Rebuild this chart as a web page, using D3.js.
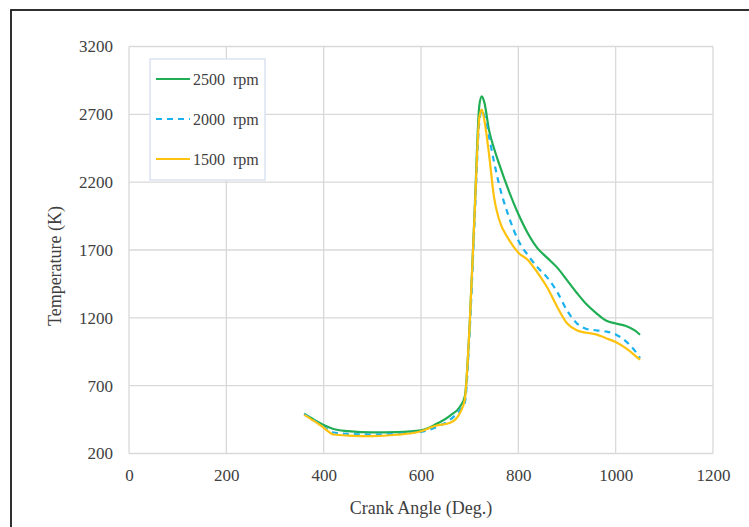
<!DOCTYPE html>
<html lang="en">
<head>
    <meta charset="UTF-8">
    <title>Temperature vs Crank Angle</title>
    <script src="https://d3js.org/d3.v7.min.js"></script>
    <style>
        body { margin: 0; background: #fff; overflow: hidden; }
        text { font-family: "Liberation Serif", "Times New Roman", serif; fill: #404040; }
        .grid line { stroke: #d9d9d9; stroke-width: 1.3; }
    </style>
</head>
<body>
    <div id="container"></div>
    <script>
        // crank angle (deg) shared by all series
        const angles = [360, 380, 400, 420, 450, 500, 550, 600, 630, 660, 680, 690, 700, 710, 720, 725, 730, 740, 750, 760,
                        780, 800, 820, 840, 860, 880, 900, 920, 940, 960, 980, 1000, 1020, 1040, 1050];

        const temp2500 = [494, 450, 410, 381, 365, 355, 358, 371, 415, 480, 545, 620, 1150, 1970, 2770, 2832, 2790, 2580, 2450, 2340,
                          2140, 1965, 1820, 1710, 1640, 1570, 1478, 1385, 1300, 1235, 1180, 1158, 1142, 1105, 1075];
        const temp2000 = [490, 445, 395, 355, 345, 340, 345, 360, 392, 450, 520, 575, 1100, 1900, 2650, 2730, 2690, 2530, 2350, 2190,
                          1950, 1770, 1660, 1570, 1495, 1390, 1255, 1160, 1118, 1108, 1099, 1078, 1030, 955, 904];
        const temp1500 = [485, 440, 390, 340, 332, 328, 338, 364, 405, 426, 499, 597, 1150, 1950, 2680, 2734, 2660, 2400, 2090, 1930,
                          1780, 1680, 1625, 1530, 1420, 1280, 1160, 1108, 1090, 1078, 1050, 1022, 978, 922, 891];

        const seriesNames = ["2500  rpm", "2000  rpm", "1500  rpm"];
        const seriesColors = ["#1fae54", "#1ab2ee", "#ffc20e"];
        const seriesDash = [null, "6,5", null];
        const allSeries = [temp2500, temp2000, temp1500];

        const xTicks = [0, 200, 400, 600, 800, 1000, 1200];
        const yTicks = [200, 700, 1200, 1700, 2200, 2700, 3200];

        const width = 749, height = 527;
        const plot = { left: 129, right: 713, top: 46.5, bottom: 453.5 };

        const svg = d3.select("#container").append("svg")
            .attr("width", width)
            .attr("height", height);

        // outer frame
        svg.append("rect")
            .attr("x", 11).attr("y", 10)
            .attr("width", 780).attr("height", 560)
            .attr("fill", "#fff")
            .attr("stroke", "#1a1a1a")
            .attr("stroke-width", 1.8);

        const x = d3.scaleLinear().domain([0, 1200]).range([plot.left, plot.right]);
        const y = d3.scaleLinear().domain([200, 3200]).range([plot.bottom, plot.top]);

        // gridlines
        const grid = svg.append("g").attr("class", "grid");
        grid.selectAll("line.v").data(xTicks).enter().append("line")
            .attr("x1", d => x(d)).attr("x2", d => x(d))
            .attr("y1", plot.top).attr("y2", plot.bottom);
        grid.selectAll("line.h").data(yTicks).enter().append("line")
            .attr("x1", plot.left).attr("x2", plot.right)
            .attr("y1", d => y(d)).attr("y2", d => y(d));

        // axes (tick labels only)
        const xAxis = svg.append("g")
            .attr("transform", `translate(0,${plot.bottom})`)
            .call(d3.axisBottom(x).tickValues(xTicks).tickFormat(d3.format("d")).tickSize(0).tickPadding(16));
        const yAxis = svg.append("g")
            .attr("transform", `translate(${plot.left},0)`)
            .call(d3.axisLeft(y).tickValues(yTicks).tickFormat(d3.format("d")).tickSize(0).tickPadding(16));
        [xAxis, yAxis].forEach(a => {
            a.select(".domain").remove();
            a.selectAll("text")
                .style("font-family", '"Liberation Serif", "Times New Roman", serif')
                .style("font-size", "17px")
                .attr("fill", "#404040");
        });
        xAxis.selectAll("text").attr("dy", "0.35em").attr("y", 22);

        // axis titles
        svg.append("text")
            .attr("x", (plot.left + plot.right) / 2)
            .attr("y", 514)
            .attr("text-anchor", "middle")
            .style("font-size", "18px")
            .text("Crank Angle (Deg.)");
        svg.append("text")
            .attr("transform", "translate(61,266) rotate(-90)")
            .attr("text-anchor", "middle")
            .style("font-size", "18px")
            .text("Temperature (K)");

        // lines
        const line = d3.line()
            .x((d, i) => x(angles[i]))
            .y(d => y(d))
            .curve(d3.curveMonotoneX);

        allSeries.forEach((vals, i) => {
            svg.append("path")
                .datum(vals)
                .attr("fill", "none")
                .attr("stroke", seriesColors[i])
                .attr("stroke-width", 2.2)
                .attr("stroke-dasharray", seriesDash[i])
                .attr("d", line);
        });

        // legend
        const legend = svg.append("g").attr("transform", "translate(150,59)");
        legend.append("rect")
            .attr("width", 115).attr("height", 121)
            .attr("fill", "#fff")
            .attr("stroke", "#dae3f3")
            .attr("stroke-width", 1.5);
        seriesNames.forEach((name, i) => {
            const ly = 20 + i * 40;
            legend.append("line")
                .attr("x1", 6).attr("x2", 40)
                .attr("y1", ly).attr("y2", ly)
                .attr("stroke", seriesColors[i])
                .attr("stroke-width", 2.2)
                .attr("stroke-dasharray", seriesDash[i]);
            legend.append("text")
                .attr("x", 43).attr("y", ly)
                .attr("dy", "0.35em")
                .style("font-size", "16px")
                .style("white-space", "pre")
                .attr("xml:space", "preserve")
                .text(name);
        });
    </script>
</body>
</html>
